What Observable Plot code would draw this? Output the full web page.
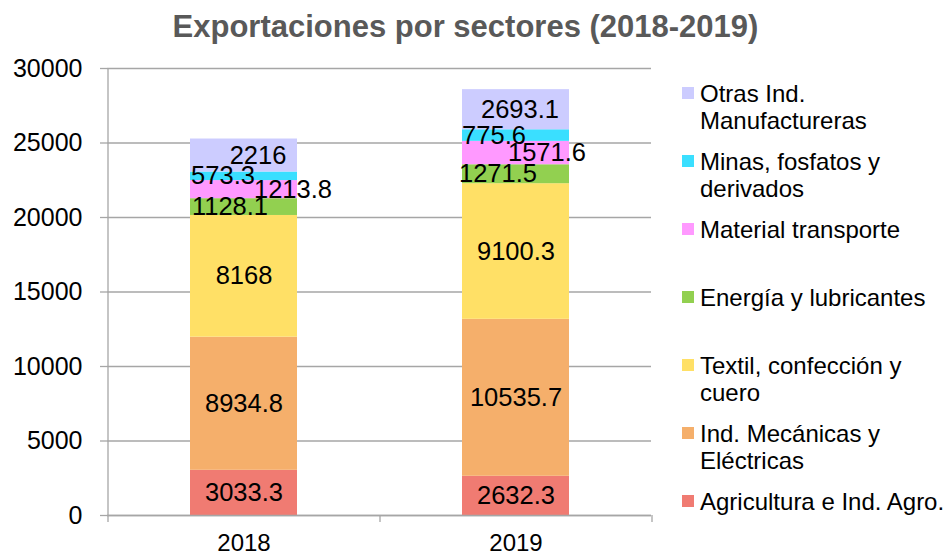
<!DOCTYPE html>
<html>
<head>
<meta charset="utf-8">
<script src="https://cdn.jsdelivr.net/npm/d3@7"></script>
<script src="https://cdn.jsdelivr.net/npm/@observablehq/plot@0.6"></script>
<style>
  html, body { margin: 0; padding: 0; background: #fff; overflow: hidden; }
  body { width: 945px; height: 555px; position: relative; font-family: "Liberation Sans", Arial, sans-serif; }
  #title { position: absolute; left: 0; top: 9px; width: 931px; text-align: center; font-weight: bold; font-size: 31px; color: #595959; }
  #chart { position: absolute; left: 0; top: 50px; }
  .leg { position: absolute; left: 682px; font-size: 24px; line-height: 27px; color: #000; white-space: nowrap; }
  .leg .sw { position: absolute; left: 0; top: 7.5px; width: 12px; height: 12px; }
  .leg .tx { position: absolute; left: 18px; top: 0; }
</style>
</head>
<body>
<div id="title">Exportaciones por sectores (2018-2019)</div>
<div id="chart"></div>
<div id="legend"></div>
<script>
const years = ["2018", "2019"];
const sectors = [
  "Agricultura e Ind. Agro.",
  "Ind. Mecánicas y Eléctricas",
  "Textil, confección y cuero",
  "Energía y lubricantes",
  "Material transporte",
  "Minas, fosfatos y derivados",
  "Otras Ind. Manufactureras"
];
const legendLines = [
  ["Agricultura e Ind. Agro."],
  ["Ind. Mecánicas y", "Eléctricas"],
  ["Textil, confección y", "cuero"],
  ["Energía y lubricantes"],
  ["Material transporte"],
  ["Minas, fosfatos y", "derivados"],
  ["Otras Ind.", "Manufactureras"]
];
const values2018 = [3033.3, 8934.8, 8168, 1128.1, 1213.8, 573.3, 2216];
const values2019 = [2632.3, 10535.7, 9100.3, 1271.5, 1571.6, 775.6, 2693.1];
const colors = ["#F07B72", "#F5AF6B", "#FFE066", "#92D050", "#FF99FF", "#3ADFFF", "#CCCCFF"];
const yTicks = [0, 5000, 10000, 15000, 20000, 25000, 30000];

// label horizontal nudges (px), mimicking the overlap avoidance of the original
const labelNudge = {
  "2018": [0, 0, 0, -14, 49, -21, 14],
  "2019": [0, 0, 0, -18, 31, -22, 4]
};

const valuesByYear = {"2018": values2018, "2019": values2019};
const rows = [];
const labels = [];
for (const yr of years) {
  let cum = 0;
  valuesByYear[yr].forEach((v, i) => {
    rows.push({year: yr, sector: sectors[i], value: v});
    labels.push({year: yr, sector: sectors[i], value: v, mid: cum + v / 2, dx: labelNudge[yr][i]});
    cum += v;
  });
}

const W = 945, H = 505, ML = 107, MR = 294, MT = 18, MB = 40;
const step = (W - ML - MR) / years.length;
const grey = "#A6A6A6";

const chart = Plot.plot({
  width: W,
  height: H,
  marginLeft: ML,
  marginRight: MR,
  marginTop: MT,
  marginBottom: MB,
  style: {fontFamily: "Liberation Sans, Arial, sans-serif", fontSize: "25px", color: "#000", background: "#fff"},
  x: {domain: years, paddingInner: 0.607, paddingOuter: 0.3035, axis: null, label: null},
  y: {domain: [0, 30000], axis: null, label: null},
  color: {domain: sectors, range: colors},
  marks: [
    Plot.gridY(yTicks, {stroke: grey, strokeOpacity: 1, strokeWidth: 1.3}),
    Plot.axisY({ticks: yTicks, tickSize: 7, tickPadding: 18, tickFormat: d => String(d), stroke: grey, strokeWidth: 1.3, fontSize: 25, label: null}),
    Plot.axisX({tickSize: 0, tickPadding: 18, fontSize: 24, label: null}),
    Plot.barY(rows, {x: "year", y: "value", fill: "sector"}),
    Plot.ruleY([0], {stroke: grey, strokeWidth: 1.3}),
    Plot.ruleX([years[0]], {dx: -step / 2, stroke: grey, strokeWidth: 1.3}),
    Plot.ruleX(years, {dx: -step / 2, y1: 0, y2: 0, insetTop: 7, stroke: grey, strokeWidth: 1.3}),
    Plot.ruleX([years[years.length - 1]], {dx: step / 2, y1: 0, y2: 0, insetTop: 7, stroke: grey, strokeWidth: 1.3}),
    ...labels.map(d => Plot.text([d], {x: "year", y: "mid", text: d => String(d.value), dx: d.dx, fontSize: 25.5, fill: "#000"}))
  ]
});
document.getElementById("chart").appendChild(chart);

// legend (top-down: reverse stacking order)
const legend = document.getElementById("legend");
const order = sectors.map((s, i) => i).reverse();
order.forEach((si, k) => {
  const item = document.createElement("div");
  item.className = "leg";
  item.style.top = (79.5 + 68 * k) + "px";
  const sw = document.createElement("div");
  sw.className = "sw";
  sw.style.background = colors[si];
  const tx = document.createElement("div");
  tx.className = "tx";
  tx.innerHTML = legendLines[si].join("<br>");
  item.appendChild(sw);
  item.appendChild(tx);
  legend.appendChild(item);
});
</script>
</body>
</html>
